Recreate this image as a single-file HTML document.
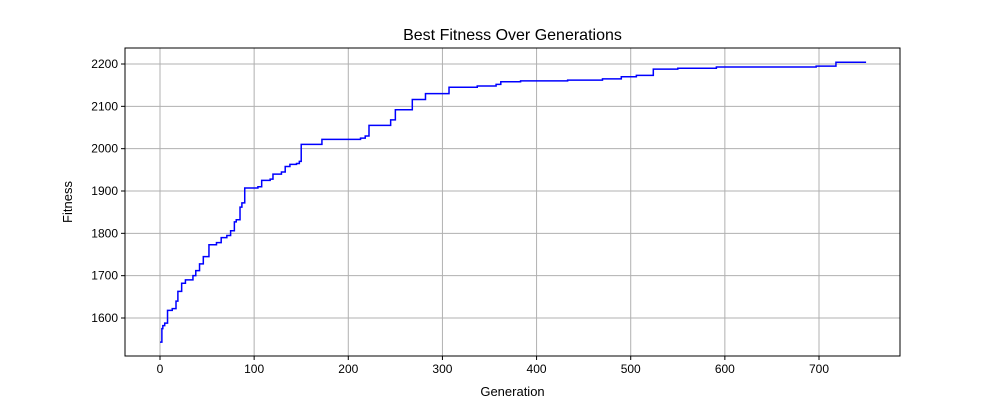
<!DOCTYPE html>
<html><head><meta charset="utf-8"><style>
body{margin:0;background:#fff;}
svg{display:block;font-family:"Liberation Sans","DejaVu Sans",sans-serif;}
</style></head><body>
<svg id="chart" width="1000" height="400"></svg>
<script>
const gens=[0,2,3,5,8,13,17,19,23,27,35,38,42,46,52,60,65,71,75,79,81,85,87,90,104,108,117,120,129,133,138,145,148,150,172,213,218,222,245,250,268,282,307,337,357,362,383,433,470,490,506,524,550,591,697,718];
const fitness=[1543,1575,1582,1588,1618,1622,1640,1663,1682,1690,1700,1712,1728,1745,1773,1778,1790,1795,1806,1827,1832,1862,1872,1907,1910,1925,1928,1940,1945,1958,1963,1965,1970,2010,2022,2025,2030,2055,2068,2092,2116,2130,2145,2148,2152,2158,2160,2162,2165,2170,2173,2188,2190,2193,2195,2204];
const lastGen=750;
const xTicks=[0,100,200,300,400,500,600,700];
const yTicks=[1600,1700,1800,1900,2000,2100,2200];
const NS="http://www.w3.org/2000/svg";
const svg=document.getElementById('chart');
const L=125,R=900,T=48,B=356;
const X=g=>160+(g-0)*(819-160)/700;
const Y=v=>318-(v-1600)*(318-64)/600;
function mk(t,a){const e=document.createElementNS(NS,t);for(const k in a)e.setAttribute(k,a[k]);svg.appendChild(e);return e;}
xTicks.forEach(t=>{
 const g=mk('line',{x1:X(t),x2:X(t),y1:T,y2:B,stroke:'#b0b0b0','stroke-width':1});
 
 
 mk('line',{x1:X(t),x2:X(t),y1:B,y2:B+4,stroke:'#000'});
 const tx=mk('text',{x:X(t),y:B+17,'text-anchor':'middle','font-size':12});
 tx.textContent=t;
 
 
});
yTicks.forEach(t=>{
 const g=mk('line',{x1:L,x2:R,y1:Y(t),y2:Y(t),stroke:'#b0b0b0','stroke-width':1});
 
 
 mk('line',{x1:L-4,x2:L,y1:Y(t),y2:Y(t),stroke:'#000'});
 const tx=mk('text',{x:L-7,y:Y(t)+4,'text-anchor':'end','font-size':12});
 tx.textContent=t;
 
 
});
let d='M'+X(gens[0])+','+Y(fitness[0]);
for(let i=1;i<gens.length;i++){d+=' H'+X(gens[i])+' V'+Y(fitness[i]);}
d+=' H'+X(lastGen);
const line=mk('path',{d:d,fill:'none',stroke:'#0000ff','stroke-width':1.5});


const fr=mk('rect',{x:L,y:T,width:R-L,height:B-T,fill:'none',stroke:'#000','stroke-width':1});


const ti=mk('text',{x:(L+R)/2,y:40,'text-anchor':'middle','font-size':16});
ti.textContent='Best Fitness Over Generations';


const xl=mk('text',{x:(L+R)/2,y:396,'text-anchor':'middle','font-size':13});
xl.textContent='Generation';


const yl=mk('text',{x:0,y:0,'text-anchor':'middle','font-size':13,transform:'translate(72,202) rotate(-90)'});
yl.textContent='Fitness';


</script>
</body></html>
